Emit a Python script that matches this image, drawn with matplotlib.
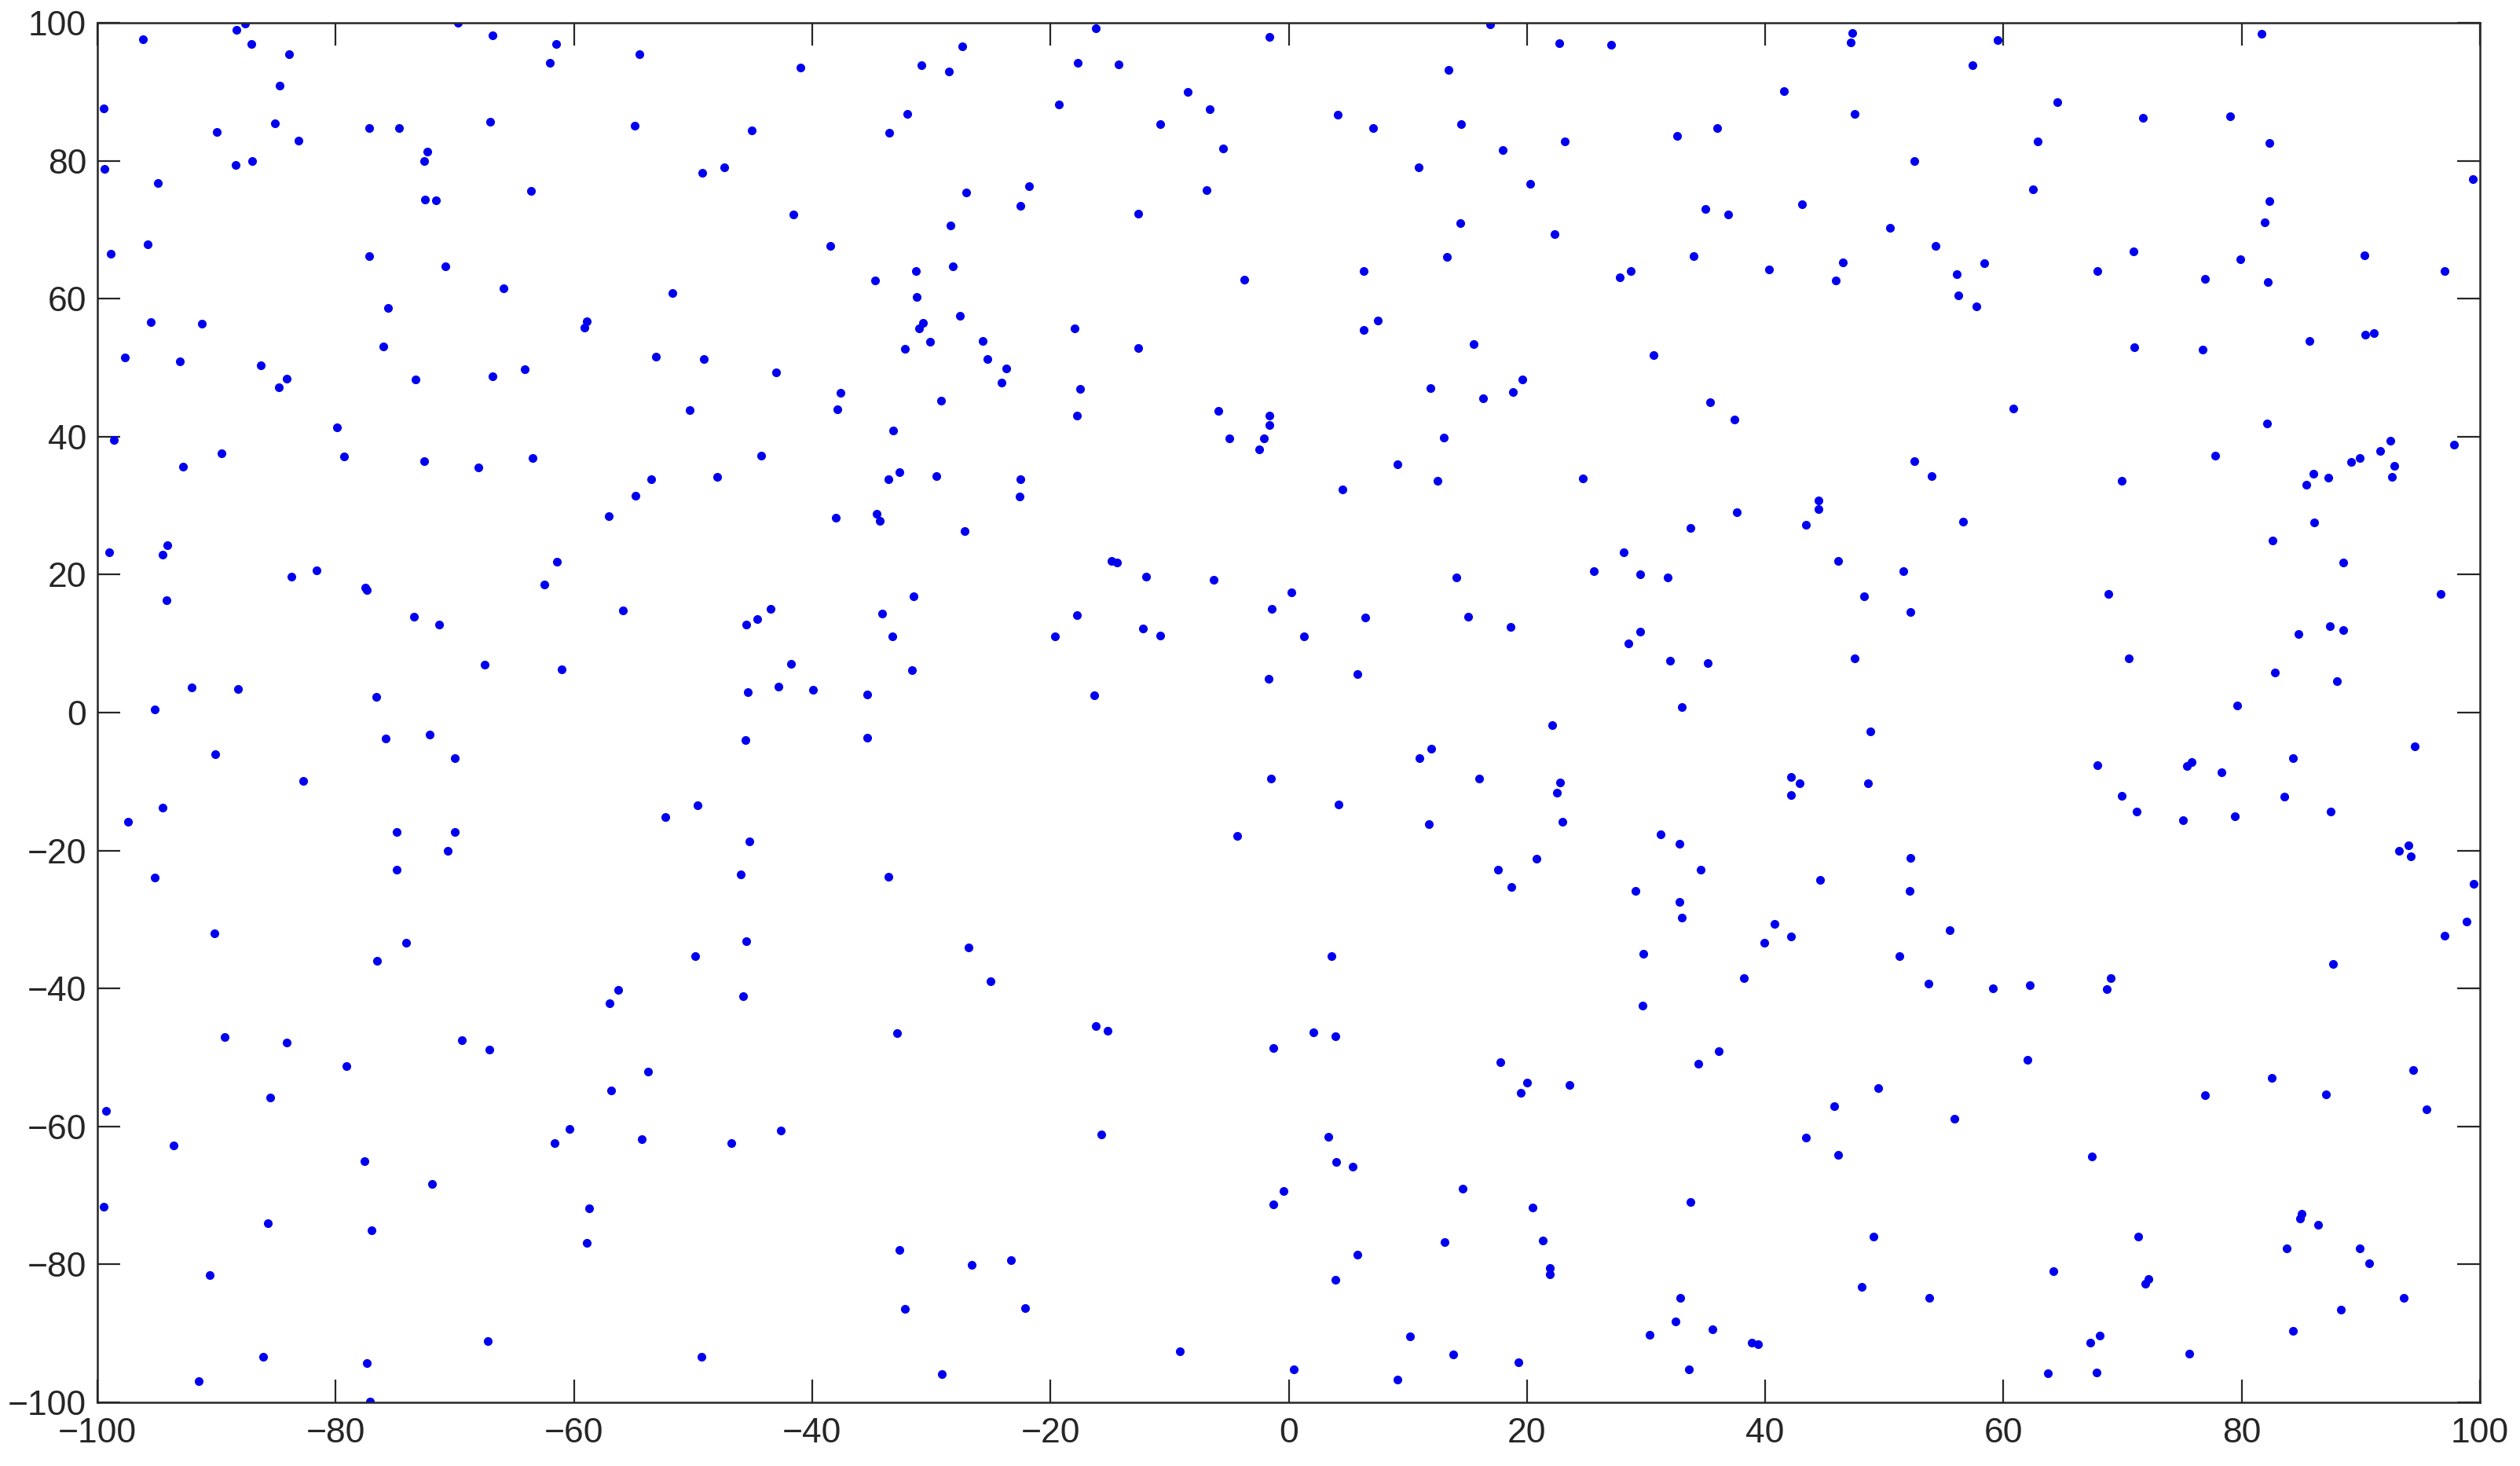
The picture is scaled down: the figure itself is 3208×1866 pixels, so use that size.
import matplotlib
matplotlib.use('Agg')
import matplotlib.pyplot as plt

# point positions, one list per region of the plot
# (four columns, three rows; left to right, top to bottom)
r1c1 = [(-87.6, 99.9), (-88.3, 99.0), (-96.2, 97.6), (-87.1, 96.9), (-83.9, 95.5), (-84.7, 90.9),
        (-99.5, 87.6), (-85.1, 85.4), (-90.0, 84.2), (-83.1, 82.9), (-77.2, 84.7), (-74.7, 84.7),
        (-69.7, 100.0), (-66.8, 98.2), (-61.5, 96.9), (-62.0, 94.2), (-54.5, 95.5), (-67.0, 85.6),
        (-54.9, 85.1), (-72.3, 81.3), (-72.6, 80.0), (-99.4, 78.8), (-88.4, 79.4), (-87.0, 79.9),
        (-94.9, 76.8), (-72.5, 74.4), (-71.6, 74.3), (-63.6, 75.6), (-95.8, 67.9), (-98.9, 66.5),
        (-77.2, 66.2), (-70.8, 64.7), (-65.9, 61.5), (-51.7, 60.8), (-75.6, 58.6), (-95.5, 56.6),
        (-91.2, 56.4), (-58.9, 56.7), (-59.1, 55.8), (-76.0, 53.1), (-97.7, 51.5), (-93.1, 50.9),
        (-86.3, 50.3), (-84.1, 48.4), (-84.8, 47.1), (-73.3, 48.3), (-66.8, 48.7), (-64.1, 49.8),
        (-53.1, 51.6), (-50.3, 43.9), (-79.9, 41.4), (-98.6, 39.5), (-89.6, 37.6), (-92.8, 35.7),
        (-79.3, 37.1), (-72.6, 36.5), (-68.0, 35.5), (-63.5, 36.9), (-53.5, 33.8)]
r1c2 = [(-16.2, 99.2), (-1.6, 98.0), (-27.4, 96.6), (-41.0, 93.5), (-30.8, 93.9), (-28.5, 92.9),
        (-17.7, 94.2), (-14.3, 94.0), (-8.5, 90.0), (-19.3, 88.2), (-6.6, 87.5), (-32.0, 86.8),
        (-45.1, 84.4), (-33.5, 84.1), (-10.8, 85.3), (-5.5, 81.8), (-47.4, 79.1), (-49.2, 78.2),
        (-27.1, 75.4), (-21.8, 76.3), (-22.5, 73.5), (-6.9, 75.7), (-12.6, 72.3), (-41.6, 72.2),
        (-28.4, 70.6), (-38.5, 67.6), (-31.3, 64.0), (-28.2, 64.7), (-34.7, 62.6), (-3.7, 62.8),
        (-31.2, 60.2), (-27.6, 57.5), (-30.7, 56.5), (-31.0, 55.7), (-18.0, 55.7), (-30.1, 53.8),
        (-25.7, 53.9), (-32.2, 52.7), (-12.6, 52.8), (-49.1, 51.3), (-25.3, 51.3), (-23.7, 49.9),
        (-24.1, 47.8), (-43.0, 49.3), (-37.6, 46.3), (-37.9, 44.0), (-29.2, 45.2), (-17.5, 46.9),
        (-17.8, 43.0), (-33.2, 40.9), (-5.9, 43.7), (-1.6, 43.1), (-1.6, 41.7), (-5.0, 39.7),
        (-2.1, 39.7), (-2.5, 38.1), (-44.3, 37.3), (-48.0, 34.2), (-33.6, 33.8), (-32.7, 34.8),
        (-29.6, 34.3), (-22.5, 33.8)]
r1c3 = [(16.9, 99.8), (22.7, 97.0), (27.1, 96.8), (47.3, 98.5), (47.2, 97.2), (13.4, 93.2),
        (41.6, 90.1), (4.1, 86.7), (7.1, 84.7), (14.5, 85.3), (47.5, 86.8), (18.0, 81.6),
        (23.2, 82.8), (32.6, 83.6), (36.0, 84.7), (10.9, 79.0), (20.3, 76.6), (35.0, 73.0),
        (36.9, 72.2), (43.1, 73.7), (14.4, 70.9), (22.3, 69.4), (13.3, 66.1), (34.0, 66.2),
        (6.3, 64.0), (27.8, 63.1), (28.7, 64.0), (40.3, 64.2), (46.5, 65.3), (45.9, 62.6),
        (7.5, 56.8), (6.3, 55.5), (15.5, 53.4), (30.6, 51.8), (11.9, 47.0), (16.3, 45.6),
        (18.8, 46.5), (19.6, 48.3), (35.4, 45.0), (37.4, 42.5), (13.0, 39.9), (9.1, 36.0),
        (12.5, 33.6), (24.7, 33.9)]
r1c4 = [(59.5, 97.5), (81.7, 98.4), (57.4, 93.8), (64.5, 88.5), (71.7, 86.2), (79.0, 86.5),
        (62.9, 82.8), (82.3, 82.6), (52.5, 79.9), (99.4, 77.3), (62.5, 75.9), (82.3, 74.2),
        (81.9, 71.1), (50.5, 70.3), (54.3, 67.6), (70.9, 66.8), (58.4, 65.1), (56.1, 63.5),
        (67.9, 64.0), (76.9, 62.9), (79.9, 65.7), (82.2, 62.4), (90.3, 66.3), (97.0, 64.0),
        (56.2, 60.5), (57.7, 58.9), (85.7, 53.9), (90.4, 54.8), (91.1, 55.0), (71.0, 53.0),
        (76.7, 52.6), (60.8, 44.1), (82.1, 41.9), (52.5, 36.5), (54.0, 34.3), (69.9, 33.6),
        (77.8, 37.2), (86.0, 34.6), (85.4, 33.0), (87.3, 34.0), (89.2, 36.3), (89.9, 36.9),
        (91.6, 37.9), (92.5, 39.4), (92.8, 35.8), (92.6, 34.2), (97.8, 38.8)]

r2c1 = [(-54.8, 31.4), (-57.1, 28.5), (-99.0, 23.2), (-94.1, 24.3), (-94.5, 22.9), (-61.4, 21.9),
        (-83.7, 19.7), (-81.6, 20.6), (-77.5, 18.1), (-77.4, 17.8), (-62.5, 18.6), (-94.2, 16.3),
        (-55.9, 14.8), (-73.4, 13.9), (-71.3, 12.7), (-67.5, 7.0), (-61.0, 6.3), (-92.1, 3.7),
        (-88.2, 3.4), (-76.6, 2.3), (-95.2, 0.5), (-75.8, -3.8), (-72.1, -3.2), (-70.0, -6.6),
        (-90.1, -6.0), (-82.7, -9.9), (-94.5, -13.8), (-97.4, -15.8), (-74.9, -17.3), (-70.0, -17.3),
        (-70.6, -20.1), (-74.9, -22.8), (-95.2, -23.9), (-52.3, -15.1), (-90.2, -32.0), (-74.1, -33.4)]
r2c2 = [(-22.6, 31.3), (-38.0, 28.2), (-34.6, 28.8), (-34.3, 27.8), (-27.2, 26.3), (-14.9, 22.0),
        (-14.4, 21.7), (-12.0, 19.7), (-6.3, 19.3), (0.2, 17.4), (-1.4, 15.0), (-43.5, 15.0),
        (-44.6, 13.6), (-45.5, 12.7), (-31.5, 16.8), (-34.1, 14.3), (-33.3, 11.1), (-17.8, 14.1),
        (-19.6, 11.1), (-12.2, 12.2), (-10.8, 11.2), (-41.8, 7.1), (-31.6, 6.1), (-1.7, 4.9),
        (-45.4, 3.0), (-42.8, 3.8), (-39.9, 3.3), (-35.4, 2.6), (-16.3, 2.5), (-45.6, -4.0),
        (-35.4, -3.7), (-1.5, -9.6), (-49.6, -13.4), (-4.3, -17.9), (-45.3, -18.7), (-46.0, -23.5),
        (-33.6, -23.8), (-45.5, -33.2), (-26.9, -34.1)]
r2c3 = [(4.5, 32.4), (44.5, 30.7), (44.5, 29.5), (37.6, 29.0), (33.7, 26.8), (43.4, 27.2),
        (28.1, 23.2), (25.6, 20.5), (29.5, 20.0), (31.8, 19.6), (46.1, 22.0), (14.1, 19.6),
        (48.3, 16.9), (6.4, 13.8), (15.1, 13.9), (18.6, 12.4), (1.3, 11.1), (29.5, 11.7),
        (28.5, 10.0), (32.0, 7.5), (35.2, 7.2), (47.5, 7.9), (5.8, 5.6), (33.0, 0.8),
        (22.1, -1.8), (48.8, -2.7), (12.0, -5.2), (11.0, -6.6), (16.0, -9.6), (22.8, -10.1),
        (22.5, -11.6), (42.2, -9.3), (42.9, -10.2), (42.2, -12.0), (48.6, -10.2), (4.2, -13.3),
        (11.8, -16.2), (23.0, -15.8), (31.2, -17.7), (32.8, -19.0), (20.8, -21.2), (17.6, -22.8),
        (18.7, -25.3), (34.6, -22.8), (44.6, -24.3), (29.1, -25.9), (32.8, -27.5), (33.0, -29.7),
        (40.8, -30.6), (42.2, -32.5), (39.9, -33.4)]
r2c4 = [(56.6, 27.7), (86.1, 27.6), (82.6, 25.0), (88.5, 21.7), (51.6, 20.5), (68.8, 17.2),
        (96.7, 17.2), (52.2, 14.6), (87.4, 12.5), (88.5, 12.0), (84.8, 11.4), (70.5, 7.9),
        (82.8, 5.8), (88.0, 4.5), (79.6, 1.0), (94.5, -4.9), (67.9, -7.6), (75.4, -7.7),
        (75.8, -7.2), (78.3, -8.7), (84.3, -6.6), (69.9, -12.1), (71.2, -14.4), (75.1, -15.6),
        (79.4, -15.0), (83.6, -12.2), (87.5, -14.3), (94.0, -19.2), (93.2, -20.1), (94.2, -20.8),
        (52.2, -21.1), (52.1, -25.9), (99.5, -24.8), (55.5, -31.6), (98.9, -30.3), (97.0, -32.4)]

r3c1 = [(-76.5, -36.0), (-56.3, -40.2), (-57.0, -42.1), (-89.3, -47.0), (-84.1, -47.8), (-69.4, -47.5),
        (-67.1, -48.9), (-79.1, -51.3), (-53.8, -52.0), (-85.5, -55.8), (-56.9, -54.8), (-99.3, -57.8),
        (-60.4, -60.4), (-61.6, -62.4), (-54.3, -61.8), (-93.6, -62.7), (-77.6, -65.0), (-71.9, -68.3),
        (-99.5, -71.6), (-58.7, -71.9), (-58.9, -76.9), (-85.7, -74.0), (-77.0, -75.0), (-90.6, -81.5),
        (-67.2, -91.1), (-86.1, -93.4), (-77.4, -94.3), (-91.5, -96.9), (-77.1, -99.9)]
r3c2 = [(-49.8, -35.3), (-45.8, -41.1), (-25.0, -39.0), (-32.9, -46.5), (-16.2, -45.5), (-15.2, -46.1),
        (-1.3, -48.6), (-42.6, -60.6), (-46.8, -62.4), (-15.7, -61.2), (-0.4, -69.4), (-1.3, -71.3),
        (-32.7, -77.9), (-26.6, -80.1), (-23.3, -79.4), (-32.2, -86.5), (-22.1, -86.3), (-49.3, -93.4),
        (-9.1, -92.6), (-29.1, -95.9)]
r3c3 = [(3.6, -35.3), (29.8, -35.0), (38.2, -38.5), (29.7, -42.5), (2.1, -46.3), (3.9, -46.9),
        (17.8, -50.7), (20.0, -53.7), (19.5, -55.1), (23.6, -54.0), (36.1, -49.1), (34.4, -50.9),
        (49.5, -54.4), (45.8, -57.1), (43.4, -61.6), (46.1, -64.1), (3.3, -61.5), (4.0, -65.2),
        (5.4, -65.8), (14.6, -69.0), (20.5, -71.8), (33.7, -71.0), (21.3, -76.5), (13.1, -76.8),
        (21.9, -80.5), (21.9, -81.4), (5.8, -78.6), (3.9, -82.2), (49.1, -76.0), (48.1, -83.3),
        (32.9, -84.9), (32.5, -88.3), (35.6, -89.4), (30.3, -90.2), (38.9, -91.4), (39.4, -91.6),
        (10.2, -90.4), (13.8, -93.1), (19.3, -94.2), (0.4, -95.2), (9.1, -96.7), (33.6, -95.2)]
r3c4 = [(51.3, -35.3), (53.7, -39.3), (59.1, -40.0), (62.2, -39.5), (69.0, -38.5), (68.7, -40.1),
        (87.7, -36.4), (62.0, -50.3), (82.5, -53.0), (76.9, -55.5), (87.1, -55.3), (94.4, -51.8),
        (95.5, -57.5), (55.9, -58.9), (67.4, -64.4), (85.0, -72.7), (84.9, -73.3), (86.4, -74.3),
        (71.3, -76.0), (83.8, -77.7), (89.9, -77.7), (90.7, -79.8), (64.2, -81.0), (72.2, -82.1),
        (71.9, -82.8), (53.8, -84.9), (93.6, -84.8), (88.3, -86.6), (84.3, -89.6), (68.1, -90.3),
        (67.3, -91.3), (75.6, -92.9), (63.7, -95.8), (67.8, -95.7)]

ticks = list(range(-100, 101, 20))

regions = [r1c1, r1c2, r1c3, r1c4, r2c1, r2c2, r2c3, r2c4, r3c1, r3c2, r3c3, r3c4]
xs = [p[0] for r in regions for p in r]
ys = [p[1] for r in regions for p in r]

plt.rcParams['font.family'] = ['Liberation Sans', 'DejaVu Sans']

W, H = 3208, 1866
fig = plt.figure(figsize=(W / 200, H / 200), dpi=200)
ax = fig.add_axes([124 / W, 1 - 1785 / H, (3157 - 124) / W, (1785 - 29) / H])

ax.plot(xs, ys, linestyle='none', marker='o', markersize=4.0,
        markeredgewidth=0, color='#0000ee')

ax.set_xlim(-100, 100)
ax.set_ylim(-100, 100)
ax.set_xticks(ticks)
ax.set_yticks(ticks)
ax.tick_params(direction='in', length=10.4, width=0.8, top=True, right=True,
               labelsize=16, colors='#262626')
ax.tick_params(axis='x', pad=7)
ax.tick_params(axis='y', pad=5)
for s in ax.spines.values():
    s.set_linewidth(0.9)
    s.set_color('#262626')

fig.savefig('out.png', dpi=200)
